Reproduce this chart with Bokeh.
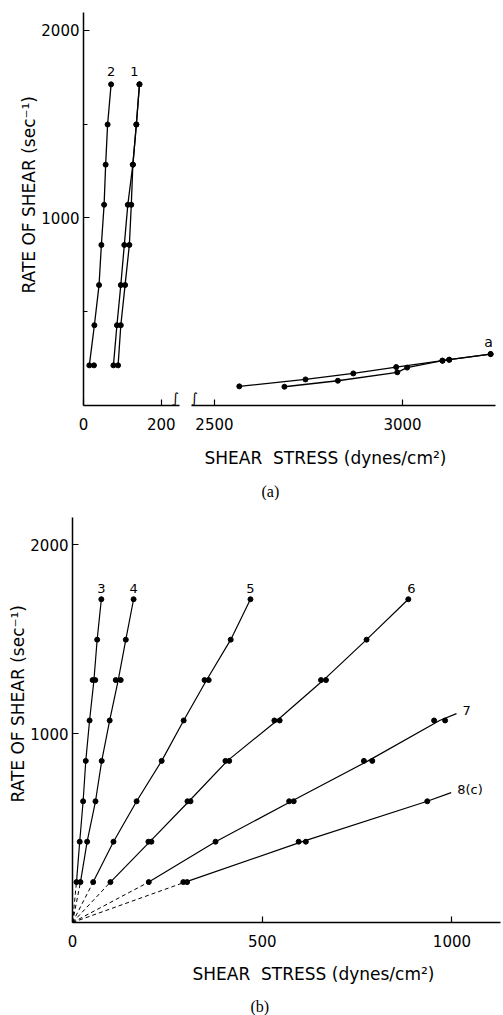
import numpy as np
from bokeh.plotting import figure
from bokeh.models import Label, FixedTicker, Range1d, Title
from bokeh.layouts import column, row
from bokeh.embed import file_html
from bokeh.resources import INLINE

# ---------------- data ----------------
rates = [214, 428, 642, 856, 1070, 1284, 1498, 1712]

# panel (a), low-stress part (0-250 dynes/cm2)
a2_stress = [15, 28, 40, 46, 53, 57, 62, 71]
a2_extra_stress = [27]
a2_extra_rate = [214]
a1_up_stress = [77, 86, 96, 105, 114, 127, 136, 144]
a1_down_stress = [89, 96, 107, 118, 123, 127, 136, 144]
# panel (a), high-stress part (curve a)
aa_up_stress = [2566, 2742, 2869, 2983, 3106, 3124, 3234]
aa_up_rate = [102, 139, 171, 205, 239, 244, 274]
aa_down_stress = [2686, 2828, 2986, 3012, 3106, 3124, 3234]
aa_down_rate = [100, 132, 177, 202, 239, 244, 274]

# panel (b)
b3_rate = [214, 428, 642, 856, 1070, 1284, 1284, 1498, 1712]
b3_stress = [10.5, 19, 28, 35, 45, 53, 60, 65, 76]
b4_rate = [214, 428, 642, 856, 1070, 1284, 1284, 1498, 1712]
b4_stress = [21, 38.6, 60.6, 77, 98, 114, 127, 140.5, 161]
b5_rate = [214, 428, 642, 856, 1070, 1284, 1284, 1498, 1712]
b5_stress = [54.5, 108, 169, 235, 293, 348, 359, 417, 469]
b6_rate = [214, 428, 428, 642, 642, 856, 856, 1070, 1070, 1284, 1284, 1498, 1712]
b6_stress = [100, 200, 208, 303, 311, 403, 413, 532, 546, 655, 668, 775, 885]
b7_rate = [214, 428, 642, 642, 856, 856, 1070, 1070]
b7_stress = [201, 377, 571, 583, 768, 790, 953, 982]
b7_line_end = [1012, 1106]
b8_rate = [214, 214, 428, 428, 642]
b8_stress = [292, 302, 596, 615, 935]
b8_line_end = [998, 688]

series_b = [("3", b3_stress, b3_rate, None), ("4", b4_stress, b4_rate, None),
            ("5", b5_stress, b5_rate, None), ("6", b6_stress, b6_rate, None),
            ("7", b7_stress, b7_rate, b7_line_end), ("8(c)", b8_stress, b8_rate, b8_line_end)]

a_xticks_low = [0, 200]
a_xticks_high = [2500, 3000]
a_yticks = [1000, 2000]
a_yminor = [500, 1500]
b_xticks = [0, 500, 1000]
b_yticks = [1000, 2000]

Y_TITLE = "RATE OF SHEAR (sec\u207b\u00b9)"
X_TITLE = "SHEAR\u00a0\u00a0STRESS (dynes/cm\u00b2)"

FONT = "DejaVu Sans"
SERIF = "Liberation Serif"

# ---------------- geometry ----------------
A_H, A_TOP, A_FH = 500, 12, 393
A_BOT = A_H - A_TOP - A_FH
A_Y = (0, 2095)
AL_LB, AL_FW, AL_RB = 83, 96, 6
AL_X = (0, 247)
AR_LB, AR_FW, AR_RB = 6, 304, 8
AR_X = (2439, 3247)

B_W, B_H, B_TOP, B_FH = 503, 515, 17, 405
B_LB, B_RB = 72, 3
B_FW = B_W - B_LB - B_RB
B_BOT = B_H - B_TOP - B_FH
B_X = (0, 1128)
B_Y = (0, 2145)


def make_fig(w, h, xr, yr, lb, rb, tb, bb, yaxis=True):
    p = figure(width=w, height=h, x_range=Range1d(*xr), y_range=Range1d(*yr),
               output_backend="svg", toolbar_location=None,
               min_border_left=lb, min_border_right=rb, min_border_top=tb,
               min_border_bottom=bb, y_axis_location="left" if yaxis else None)
    p.outline_line_color = None
    p.grid.visible = False
    for ax in p.axis:
        ax.axis_line_width = 1.5
        ax.axis_line_color = "black"
        ax.major_tick_in = 6
        ax.major_tick_out = 0
        ax.minor_tick_in = 4
        ax.minor_tick_out = 0
        ax.major_tick_line_width = 1.2
        ax.major_label_text_font = FONT
        ax.major_label_text_font_size = "15px"
        ax.major_label_text_color = "black"
    return p


def title(p, side, text, offset, size="17px", font=FONT, standoff=10):
    p.add_layout(Title(text=text, align="left", offset=offset, text_font=font,
                       text_font_size=size, text_font_style="normal",
                       text_color="black", standoff=standoff), side)


def label(p, x, y, text, size="14px", font=FONT, align="center", base="middle"):
    p.add_layout(Label(x=x, y=y, text=text, text_font=font, text_font_size=size,
                       text_align=align, text_baseline=base, text_color="black"))


def ppu(fw, r):
    return fw / (r[1] - r[0])

# ---------------- panel (a) left ----------------
pal = make_fig(AL_LB + AL_FW + AL_RB, A_H, AL_X, A_Y, AL_LB, AL_RB, A_TOP, A_BOT)
pal.xaxis.ticker = FixedTicker(ticks=a_xticks_low, minor_ticks=[])
pal.yaxis.ticker = FixedTicker(ticks=a_yticks, minor_ticks=a_yminor)
pal.xaxis.major_label_standoff = 12
pal.yaxis.major_label_standoff = 4

for st in (a2_stress, a1_up_stress, a1_down_stress):
    pal.line(st, rates, line_color="black", line_width=1.3)
    pal.scatter(st, rates, size=5, color="black")
pal.scatter(a2_extra_stress, a2_extra_rate, size=5, color="black")

ay_ppu = A_FH / (A_Y[1] - A_Y[0])
label(pal, a2_stress[-1], rates[-1] + 13 / ay_ppu, "2", size="13px")
label(pal, a1_up_stress[-1] - 5 / ppu(AL_FW, AL_X), rates[-1] + 13 / ay_ppu, "1", size="13px")
label(pal, AL_X[1] - 4 / ppu(AL_FW, AL_X), 0, "\u222b", size="14px", base="bottom")
title(pal, "left", Y_TITLE, offset=112, standoff=0)

# ---------------- panel (a) right ----------------
par = make_fig(AR_LB + AR_FW + AR_RB, A_H, AR_X, A_Y, AR_LB, AR_RB, A_TOP, A_BOT, yaxis=False)
par.xaxis.ticker = FixedTicker(ticks=a_xticks_high, minor_ticks=[])
par.xaxis.major_label_standoff = 12
par.line(aa_up_stress, aa_up_rate, line_color="black", line_width=1.3)
par.line(aa_down_stress, aa_down_rate, line_color="black", line_width=1.3)
par.scatter(aa_up_stress, aa_up_rate, size=5, color="black")
par.scatter(aa_down_stress, aa_down_rate, size=5, color="black")
label(par, aa_up_stress[-1] - 2 / ppu(AR_FW, AR_X), aa_up_rate[-1] + 12 / ay_ppu, "a", size="14px")
label(par, AR_X[0] + 3 / ppu(AR_FW, AR_X), 0, "\u222b", size="14px", base="bottom")
title(par, "below", X_TITLE, offset=13, standoff=26)
title(par, "below", "(a)", offset=70, size="16px", font=SERIF, standoff=0)

# ---------------- panel (b) ----------------
pb = make_fig(B_W, B_H, B_X, B_Y, B_LB, B_RB, B_TOP, B_BOT)
pb.xaxis.ticker = FixedTicker(ticks=b_xticks, minor_ticks=[])
pb.yaxis.ticker = FixedTicker(ticks=b_yticks, minor_ticks=[])
pb.xaxis.major_label_standoff = 12
pb.yaxis.major_label_standoff = 4

bx_ppu = ppu(B_FW, B_X)
by_ppu = B_FH / (B_Y[1] - B_Y[0])

for name, st, rt, end in series_b:
    st = np.asarray(st, dtype=float)
    rt = np.asarray(rt, dtype=float)
    ur = np.unique(rt)
    mean_st = np.array([st[rt == r].mean() for r in ur])
    lx = list(mean_st)
    ly = list(ur)
    if end is not None:
        lx.append(end[0])
        ly.append(end[1])
    pb.line(lx, ly, line_color="black", line_width=1.2)
    pb.line([0, mean_st[0]], [0, ur[0]], line_color="black", line_width=1.0, line_dash="4 3")
    pb.scatter(st, rt, size=5, color="black")
    if end is None:
        label(pb, mean_st[-1] + (3 / bx_ppu if name == "6" else 0), ur[-1] + 11 / by_ppu,
              name, size="13px")
    else:
        label(pb, end[0] + 6 / bx_ppu, end[1] + 3 / by_ppu, name, size="13px", align="left")

title(pb, "left", Y_TITLE, offset=120, standoff=0)
title(pb, "below", X_TITLE + " ", offset=120, standoff=24)
title(pb, "below", "(b)", offset=178, size="16px", font=SERIF, standoff=0)

layout = column(row(pal, par, spacing=0), pb, spacing=0)
open("out.html", "w").write(file_html(layout, INLINE))
